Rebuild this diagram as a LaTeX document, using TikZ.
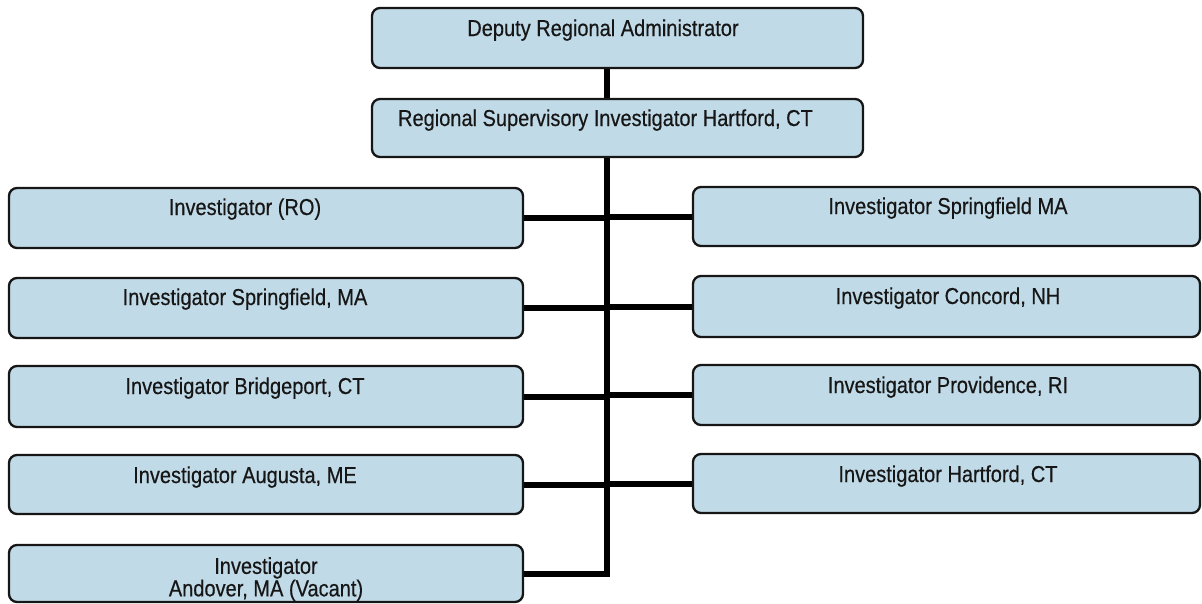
\documentclass[tikz,border=0pt]{standalone}
\usepackage{fontspec}
\setmainfont{Liberation Sans}[FakeStretch=0.87,FakeBold=0.4]
\usetikzlibrary{backgrounds}
\definecolor{boxfill}{RGB}{193,218,231}
\definecolor{ink}{RGB}{22,22,22}
\begin{document}
\begin{tikzpicture}[x=1pt,y=-1pt,
  box/.style={draw=ink, line width=2.3pt, rounded corners=8pt, fill=boxfill, inner sep=0pt},
  txt/.style={font=\fontsize{23}{20}\selectfont, inner sep=0pt, text=ink},
  conn/.style={line width=6pt, draw=black}]
\useasboundingbox (0,0) rectangle (1202,603);
% boxes
\node[box, minimum width=491pt, minimum height=60pt] (top) at (617.5,38) {};
\node[box, minimum width=491pt, minimum height=58pt] (sup) at (617.5,128) {};
\node[box, minimum width=514pt, minimum height=60pt] (l1) at (266,218) {};
\node[box, minimum width=514pt, minimum height=60pt] (l2) at (266,308) {};
\node[box, minimum width=514pt, minimum height=61pt] (l3) at (266,396.5) {};
\node[box, minimum width=514pt, minimum height=59pt] (l4) at (266,484.5) {};
\node[box, minimum width=514pt, minimum height=57pt] (l5) at (266,573.5) {};
\node[box, minimum width=507pt, minimum height=59pt] (r1) at (946.5,216.5) {};
\node[box, minimum width=507pt, minimum height=61pt] (r2) at (946.5,306.5) {};
\node[box, minimum width=507pt, minimum height=60pt] (r3) at (946.5,395) {};
\node[box, minimum width=507pt, minimum height=59pt] (r4) at (946.5,483.5) {};
% texts
\node[txt, anchor=base] (ttop) at (603,36) {Deputy Regional Administrator};
\node[txt, anchor=base] (tsup) at (605.5,126) {Regional Supervisory Investigator Hartford, CT};
\node[txt, anchor=base] (tl1) at (245,215) {Investigator (RO)};
\node[txt, anchor=base] (tl2) at (245,305) {Investigator Springfield, MA};
\node[txt, anchor=base] (tl3) at (245,394) {Investigator Bridgeport, CT};
\node[txt, anchor=base] (tl4) at (245,483) {Investigator Augusta, ME};
\node[txt, anchor=north, align=center] (tl5) at (266,557) {Investigator\\Andover, MA (Vacant)};
\node[txt, anchor=base] (tr1) at (948,214) {Investigator Springfield MA};
\node[txt, anchor=base] (tr2) at (948,304) {Investigator Concord, NH};
\node[txt, anchor=base] (tr3) at (948,393) {Investigator Providence, RI};
\node[txt, anchor=base] (tr4) at (948,482) {Investigator Hartford, CT};
% connectors
\coordinate (tk) at (607,0);
\begin{pgfonlayer}{background}
\draw[conn] (top.south -| tk) -- (sup.north -| tk);
\draw[conn] (sup.south -| tk) -- (l5.east -| tk) -- (l5.east);
\draw[conn] (l1.east) -- (l1.east -| tk);
\draw[conn] (l2.east) -- (l2.east -| tk);
\draw[conn] (l3.east) -- (l3.east -| tk);
\draw[conn] (l4.east) -- (l4.east -| tk);
\draw[conn] (r1.west) -- (r1.west -| tk);
\draw[conn] (r2.west) -- (r2.west -| tk);
\draw[conn] (r3.west) -- (r3.west -| tk);
\draw[conn] (r4.west) -- (r4.west -| tk);
\end{pgfonlayer}
\end{tikzpicture}
\end{document}
